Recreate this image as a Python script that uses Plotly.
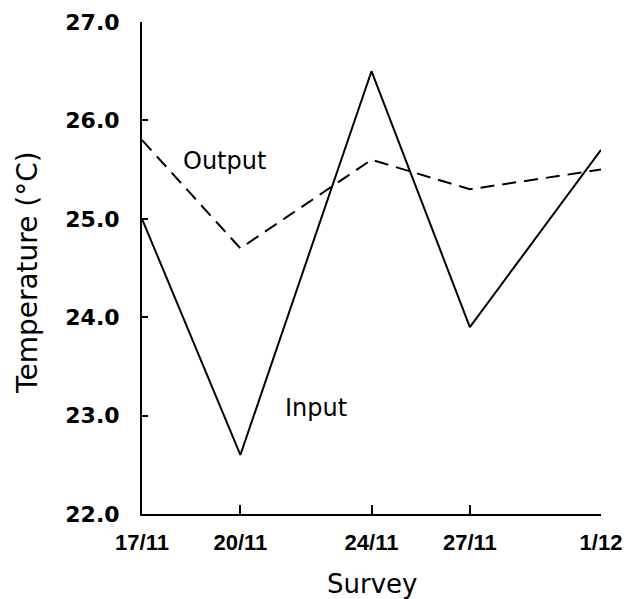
import plotly.graph_objects as go

# Data
survey_day = [17, 20, 24, 27, 31]          # day position (Nov; 1/12 = day 31)
survey_labels = ["17/11", "20/11", "24/11", "27/11", "1/12"]
input_temp = [25.0, 22.6, 26.5, 23.9, 25.7]
output_temp = [25.8, 24.7, 25.6, 25.3, 25.5]
y_ticks = [22, 23, 24, 25, 26, 27]
y_tick_labels = ["22.0", "23.0", "24.0", "25.0", "26.0", "27.0"]

FONT = "DejaVu Sans"
TFONT = "Liberation Sans"

fig = go.Figure()
fig.add_trace(go.Scatter(x=survey_day, y=input_temp, mode="lines", name="Input",
                         line=dict(color="black", width=2)))
fig.add_trace(go.Scatter(x=survey_day, y=output_temp, mode="lines", name="Output",
                         line=dict(color="black", width=2, dash="14px,8px")))

fig.add_annotation(x=19.52, y=25.59, text="Output", showarrow=False,
                   font=dict(family=FONT, size=24, color="black"))
fig.add_annotation(x=22.3, y=23.08, text="Input", showarrow=False,
                   font=dict(family=FONT, size=24, color="black"))

# axis titles placed as annotations for exact positioning
fig.add_annotation(xref="paper", yref="paper", x=0, y=0.49, xanchor="center", yanchor="middle",
                   xshift=-114, text="Temperature (°C)", textangle=-90, showarrow=False,
                   font=dict(family=FONT, size=28, color="black"))
fig.add_annotation(xref="paper", yref="paper", x=0.5, y=0, xanchor="center", yanchor="middle",
                   yshift=-70, text="Survey", showarrow=False,
                   font=dict(family=FONT, size=26, color="black"))

fig.update_layout(
    width=618, height=591, autosize=False,
    paper_bgcolor="white", plot_bgcolor="white",
    showlegend=False,
    margin=dict(l=134, r=25, t=14, b=85),
    font=dict(family=FONT, color="black"),
    xaxis=dict(range=[17, 31], tickmode="array", tickvals=survey_day, ticktext=survey_labels,
               automargin=False,
               showgrid=False, zeroline=False, showline=True, linecolor="black", linewidth=2,
               ticks="inside", ticklen=9, tickwidth=2, tickcolor="black",
               ticklabelstandoff=8,
               tickfont=dict(family=TFONT, size=22, weight="bold")),
    yaxis=dict(range=[22, 27], tickmode="array", tickvals=y_ticks, ticktext=y_tick_labels,
               automargin=False,
               showgrid=False, zeroline=False, showline=True, linecolor="black", linewidth=2,
               ticks="inside", ticklen=6, tickwidth=2, tickcolor="black",
               ticklabelstandoff=16,
               tickfont=dict(family=FONT, size=22, weight="bold")),
)

fig.write_html("out.html")
